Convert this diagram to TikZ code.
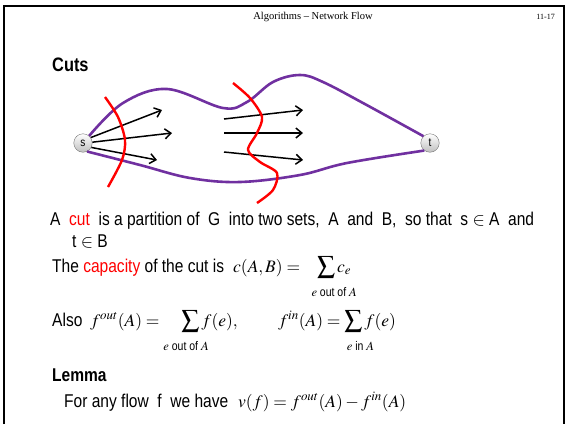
\documentclass[tikz,border=0pt]{standalone}
\usepackage{amsmath}
\usepackage{mathptmx}
\usepackage[no-math]{fontspec}
\setmainfont[FakeStretch=0.84]{Liberation Sans}
\newfontfamily\hdfont{Liberation Serif}
\usetikzlibrary{arrows.meta}
\definecolor{flowpurple}{RGB}{112,48,160}
\definecolor{cutred}{RGB}{255,0,0}
% sum sign with a shifted label underneath
\newcommand{\sumglyph}{\raisebox{-2pt}{\scalebox{1.45}{$\sum$}}}
\newcommand{\opsum}[2]{\mathop{\sumglyph}\limits_{\makebox[0pt]{\fontsize{12.5}{13}\selectfont\hspace{#1}\rule{0pt}{15pt}#2}}}

\begin{document}
\begin{tikzpicture}[x=1pt,y=-1pt,>={Straight Barb[length=6pt,width=10pt]},
  vert/.style={circle,draw=black!55,top color=white,bottom color=black!25,
    minimum size=18.5pt,inner sep=0pt,font=\fontsize{12}{12}\selectfont},
  rim/.style={draw=flowpurple,line width=2.6pt},
  cutline/.style={draw=cutred,line width=2.4pt},
  flow/.style={->,line width=1.5pt},
  txt/.style={anchor=base west,inner sep=0pt,font=\fontsize{18.5}{22}\selectfont},
  frm/.style={anchor=base west,inner sep=0pt,font=\fontsize{17.5}{21}\selectfont}]
  \useasboundingbox (0,0) rectangle (565,424);
  \draw[line width=2pt] (3.5,424) -- (3.5,6) -- (563.5,6) -- (563.5,424);
  \node[anchor=base,inner sep=0pt,font=\hdfont\fontsize{10.5}{12}\selectfont] (head) at (313,19) {Algorithms – Network Flow};
  \node[anchor=base east,inner sep=0pt,font=\hdfont\fontsize{8}{10}\selectfont] (pageno) at (555,19) {11-17};
  \node[txt,font=\fontsize{19.5}{22}\selectfont\bfseries] (title) at (52,71) {Cuts};

  % the graph
  \node[vert] (s) at (83,143) {s};
  \node[vert] (t) at (430,143) {t};
  \draw[rim] plot[smooth,tension=0.6] coordinates {(s.49) (123,103) (167,89) (223,108) (247,102) (273,82) (300,75) (323,82) (363,103) (t.134)};
  \draw[rim] plot[smooth,tension=0.6] coordinates {(s.-64) (140,165) (190,178) (240,182) (300,175) (347,163) (t.-127)};
  \coordinate (a1) at (162,110);
  \coordinate (a2) at (172,133);
  \coordinate (a3) at (157,160);
  \draw[flow] (s.35) -- (a1);
  \draw[flow] (s.5) -- (a2);
  \draw[flow] (s.-28) -- (a3);
  \coordinate (m1) at (224,119);
  \coordinate (m2) at (224,133);
  \coordinate (m3) at (224,152);
  \coordinate (n1) at (303,110);
  \coordinate (n2) at (303,133);
  \coordinate (n3) at (303,160);
  \draw[flow] (m1) -- (n1);
  \draw[flow] (m2) -- (n2);
  \draw[flow] (m3) -- (n3);
  % the two cuts
  \draw[cutline] plot[smooth] coordinates {(105,97) (118,117) (125,140) (122,160) (108,187)};
  \draw[cutline] plot[smooth] coordinates {(233,83) (250,98) (262,117) (257,133) (248,150) (260,162) (277,173) (273,190) (257,203)};

  % the text
  \node[txt] (def) at (50,225) {A\ \ {\color{cutred}cut}\ \ is a partition of\ \ G\ \ into two sets,\ \ A\ \ and\ \ B,\ \ so that\ \ s $\in$ A\ \ and};
  \node[txt] (def2) at (72,247) {t $\in$ B};
  \node[txt] (capa) at (52,272) {The {\color{cutred}capacity} of the cut is};
  \node[frm] (capf) at (233,272) {$c(A,B)=\hspace{13pt}\opsum{16pt}{$e$ out of $A$}c_e$};
  \node[txt] (also) at (52,326) {Also};
  \node[frm] (fout) at (90,326) {$f^{out}(A)=\hspace{18pt}\opsum{-9pt}{$e$ out of $A$}f(e),$};
  \node[frm] (fin) at (278,326) {$f^{in}(A)=\opsum{14pt}{$e$ in $A$}f(e)$};
  \node[txt,font=\fontsize{18.5}{22}\selectfont\bfseries] (lemma) at (52,381) {Lemma};
  \node[txt] (flowtxt) at (64,407) {For any flow\ \ f\ \ we have};
  \node[frm] (vf) at (238,407) {$v(f)=f^{out}(A)-f^{in}(A)$};
\end{tikzpicture}
\end{document}
